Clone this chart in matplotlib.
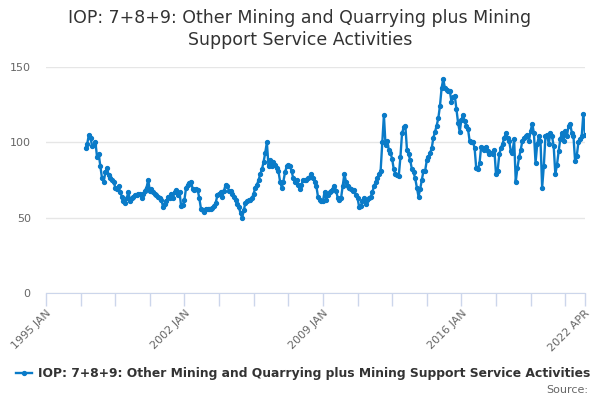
import pandas as pd
import matplotlib
matplotlib.use('Agg')
from matplotlib import pyplot as plt

# monthly index values, starting 1997 JAN
values = [
    96, 99, 105, 103, 97.5, 98, 100, 90, 92, 84, 76, 74,          # 1997
    80, 83, 78, 76, 75, 74, 70, 69, 71, 67, 64, 61,               # 1998
    60, 63, 67, 61, 63, 64, 65, 65, 66, 66, 63, 66,               # 1999
    68, 70, 75, 68, 69, 67, 66, 65, 64, 63, 62, 57,               # 2000
    59, 61, 64, 63, 66, 63, 67, 68.5, 65, 67, 57.5, 58.5,         # 2001
    62, 70, 72, 73, 74, 69, 68.5, 69, 68.5, 63, 56, 55,           # 2002
    54, 56, 56, 55.5, 56, 56.5, 58, 60, 65, 66, 67, 64,           # 2003
    68, 72, 71, 68, 67.5, 66, 64, 62, 59, 57, 53, 50,             # 2004
    55, 60, 61, 61.5, 62, 63, 66, 70, 72, 75, 79, 82,             # 2005
    87, 93, 100, 84, 88, 84, 87, 85, 83, 81, 74, 70,              # 2006
    74, 80, 84, 85, 84, 81, 76, 74, 75, 72, 69, 72,               # 2007
    75, 75, 75, 76, 77, 79, 76.5, 74, 71, 64, 62, 61,             # 2008
    61, 67, 62, 65, 67, 68, 69, 71, 68, 63, 62, 63,               # 2009
    71, 79, 74, 71, 70, 69, 67.5, 68.5, 65, 63, 57, 58,           # 2010
    61, 63, 59, 62, 63, 64, 67, 71, 73.5, 76, 79, 81,             # 2011
    100, 118, 98, 101, 95, 93, 89, 82, 79, 78, 77.5, 90,          # 2012
    106, 110, 111, 95, 92, 88, 82, 80, 76, 70, 64, 69,            # 2013
    75, 81, 81, 88, 90, 93, 96, 103, 107, 111, 116, 124,          # 2014
    136, 142, 136, 135, 134, 134, 127, 130, 131, 122, 113, 107,   # 2015
    115, 118, 114, 111, 109, 101, 100, 100, 96.5, 83, 82, 86,     # 2016
    97, 96, 95, 97, 94, 92, 93, 92.5, 95, 79, 81, 92,             # 2017
    96.5, 99, 103, 106, 103, 101, 94, 93, 102, 74, 83, 90,        # 2018
    95, 101, 103, 104, 105, 101, 107.5, 112.5, 106, 86.5, 98.7, 104,  # 2019
    101, 70, 84, 104, 105, 99, 106.5, 104, 97.5, 79, 85, 94,      # 2020
    102, 106.5, 101, 107.5, 104, 111, 112, 106.5, 104, 87.5, 91, 100,  # 2021
    102, 104, 119, 105,                                           # 2022
]
series_name = 'IOP: 7+8+9: Other Mining and Quarrying plus Mining Support Service Activities'

months = pd.period_range('1995-01', '2022-04', freq='M')
month_labels = [str(p.year) + ' ' + p.strftime('%b').upper() for p in months]
first = list(months).index(pd.Period('1997-01', freq='M'))
x = list(range(first, first + len(values)))

fig = plt.figure(figsize=(6, 4), dpi=100)
ax = fig.add_axes([46/600, 1 - 293/400, 539/600, 226/400])

line, = ax.plot(x, values, color='#0a7bc8', lw=1.7, marker='o', ms=2.8,
                label=series_name, solid_joinstyle='round')

ax.set_xlim(0, len(months) - 1)
ax.set_ylim(0, 150)
ax.set_yticks([0, 50, 100, 150])
ax.grid(axis='y', color='#e6e6e6', lw=1)
ax.set_axisbelow(True)

ticks = list(range(0, len(months), 21)) + [len(months) - 1]
ax.set_xticks(ticks)
ax.set_xticklabels([month_labels[t] if t % 84 == 0 or t == len(months) - 1 else '' for t in ticks],
                   rotation=45, ha='right', va='top', rotation_mode='anchor')

for s in ['top', 'right', 'left']:
    ax.spines[s].set_visible(False)
ax.spines['bottom'].set_color('#ccd6eb')
ax.tick_params(axis='x', colors='#ccd6eb', length=9, width=1, labelcolor='#666666',
               labelsize=8, pad=2)
ax.tick_params(axis='y', length=0, labelcolor='#666666', labelsize=8, pad=11)

fig.text(0.5, 1 - 18/400, 'IOP: 7+8+9: Other Mining and Quarrying plus Mining',
         ha='center', va='center', fontsize=12.5, color='#333333')
fig.text(0.5, 1 - 40/400, 'Support Service Activities',
         ha='center', va='center', fontsize=12.5, color='#333333')

leg = fig.legend(handles=[line], loc='center left', bbox_to_anchor=(5/600, 1 - 374/400),
                 frameon=False, handlelength=1.3, handletextpad=0.45, numpoints=1,
                 prop={'weight': 'bold', 'size': 8.9})
for t in leg.get_texts():
    t.set_color('#333333')

fig.text(588/600, 1 - 390/400, 'Source:', ha='right', va='center', fontsize=8, color='#666666')

plt.savefig('out.png', dpi=100)
